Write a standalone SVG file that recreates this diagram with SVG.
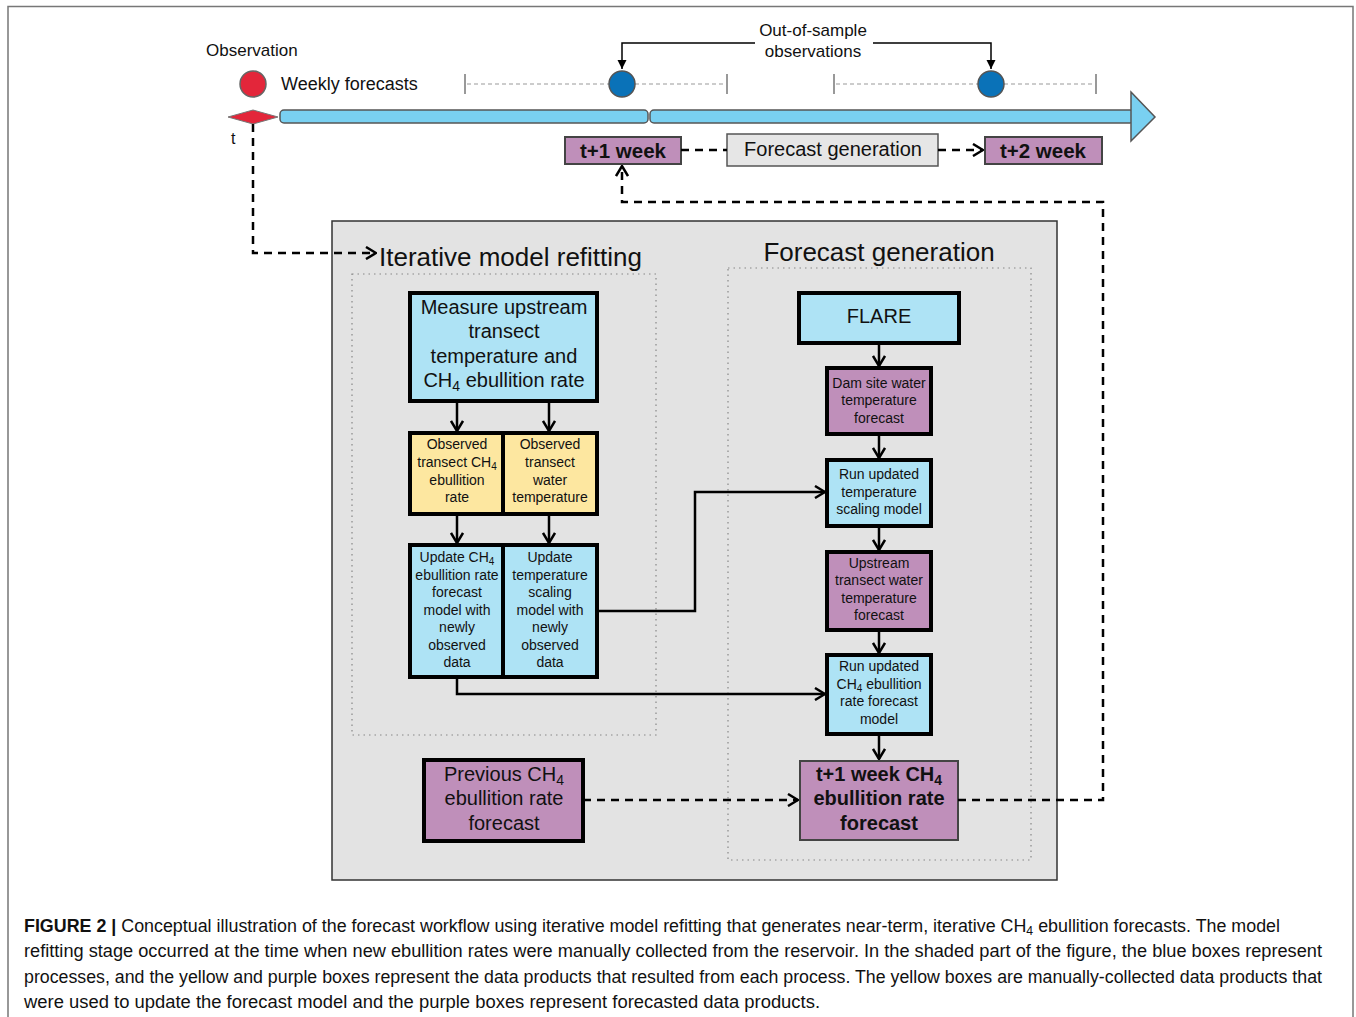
<svg xmlns="http://www.w3.org/2000/svg" width="1356" height="1017" viewBox="0 0 1356 1017">
<defs>
<style>
text{font-family:"Liberation Sans",Arial,sans-serif;fill:#111}
.c{text-anchor:middle}
.s14{font-size:14px}
.s20{font-size:20px}
.b{font-weight:bold}
.blue{fill:#aee3f5;stroke:#000;stroke-width:4}
.yel{fill:#fde7a0;stroke:#000;stroke-width:4}
.pur{fill:#bf8fba;stroke:#000;stroke-width:4}
.purt{fill:#bf8fba;stroke:#444;stroke-width:2}
.ln{fill:none;stroke:#000;stroke-width:2.5}
.dash{fill:none;stroke:#000;stroke-width:2.5;stroke-dasharray:8 6}
.dot{fill:none;stroke:#888;stroke-width:1.2;stroke-dasharray:1.5 4}
.gd{fill:none;stroke:#999;stroke-width:1.2;stroke-dasharray:4 3}
.thin{fill:none;stroke:#000;stroke-width:1.5}
</style>
<marker id="chev" viewBox="0 0 12 14" refX="11" refY="7" markerWidth="12" markerHeight="14" markerUnits="userSpaceOnUse" orient="auto">
<path d="M1,1 L11,7 L1,13" fill="none" stroke="#000" stroke-width="2.5"/>
</marker>
<marker id="tri" viewBox="0 0 10 10" refX="10" refY="5" markerWidth="9" markerHeight="10" markerUnits="userSpaceOnUse" orient="auto">
<path d="M0,0 L10,5 L0,10 Z" fill="#000"/>
</marker>
</defs>
<rect x="0" y="0" width="1356" height="1017" fill="#fff"/>
<path d="M8,1017 V6.5 H1353 V1017" fill="none" stroke="#777" stroke-width="1.5"/>

<g id="timeline">
<text x="206" y="56" style="font-size:17px">Observation</text>
<circle cx="253" cy="84" r="13" fill="#e3263a" stroke="#666" stroke-width="1.5"/>
<text x="281" y="90" style="font-size:18px">Weekly forecasts</text>
<line x1="465" y1="74" x2="465" y2="94" stroke="#777" stroke-width="1.5"/>
<line x1="727" y1="74" x2="727" y2="94" stroke="#777" stroke-width="1.5"/>
<line x1="834" y1="74" x2="834" y2="94" stroke="#777" stroke-width="1.5"/>
<line x1="1096" y1="74" x2="1096" y2="94" stroke="#777" stroke-width="1.5"/>
<line x1="467" y1="84" x2="725" y2="84" class="gd"/>
<line x1="836" y1="84" x2="1094" y2="84" class="gd"/>
<circle cx="622" cy="84" r="13" fill="#0a72b8" stroke="#555" stroke-width="1.5"/>
<circle cx="991" cy="84" r="13" fill="#0a72b8" stroke="#555" stroke-width="1.5"/>
<rect x="280" y="110" width="368" height="13" rx="4" fill="#79d0f1" stroke="#555" stroke-width="1.5"/>
<rect x="650" y="110" width="484" height="13" rx="4" fill="#79d0f1" stroke="#555" stroke-width="1.5"/>
<polygon points="1131,92 1155,117 1131,141" fill="#79d0f1" stroke="#555" stroke-width="1.5"/>
<polygon points="228,117 253,110 278,117 253,124" fill="#e3263a" stroke="#777" stroke-width="1"/>
<text x="231" y="144" style="font-size:16px">t</text>
<text x="813" y="36" class="c" style="font-size:17px">Out-of-sample</text>
<text x="813" y="57" class="c" style="font-size:17px">observations</text>
<path d="M755,43 H622 V69" class="thin" marker-end="url(#tri)"/>
<path d="M873,43 H991 V69" class="thin" marker-end="url(#tri)"/>
</g>

<g id="t1week">
<rect x="565" y="137" width="116" height="27" class="purt"/>
<text x="623" y="158" class="c b" style="font-size:20.5px">t+1 week</text>
</g>
<g id="fcgen-top">
<rect x="727" y="134" width="211" height="32" fill="#e6e6e6" stroke="#555" stroke-width="1.5"/>
<text x="833" y="156" class="c s20">Forecast generation</text>
</g>
<g id="t2week">
<rect x="985" y="137" width="117" height="27" class="purt"/>
<text x="1043" y="158" class="c b" style="font-size:20.5px">t+2 week</text>
</g>

<g id="shaded">
<rect x="332" y="221" width="725" height="659" fill="#e3e3e3" stroke="#333" stroke-width="1.5"/>
<rect x="352" y="274" width="304" height="461" class="dot"/>
<rect x="728" y="268" width="303" height="592" class="dot"/>
<text x="379" y="266" style="font-size:26px">Iterative model refitting</text>
<text x="879" y="261" class="c" style="font-size:26px">Forecast generation</text>
</g>

<g id="measure">
<rect x="410" y="293" width="187" height="108" class="blue"/>
<text class="c s20" x="504" y="314">Measure upstream</text>
<text class="c s20" x="504" y="338">transect</text>
<text class="c s20" x="504" y="363">temperature and</text>
<text class="c s20" x="504" y="387">CH<tspan dy="4" style="font-size:14px">4</tspan><tspan dy="-4"> ebullition rate</tspan></text>
</g>

<g id="obs-ch4">
<rect x="410" y="433" width="93" height="81" class="yel"/>
<text class="c s14" x="457" y="449">Observed</text>
<text class="c s14" x="457" y="467">transect CH<tspan dy="3" style="font-size:10px">4</tspan></text>
<text class="c s14" x="457" y="485">ebullition</text>
<text class="c s14" x="457" y="502">rate</text>
</g>
<g id="obs-temp">
<rect x="503" y="433" width="94" height="81" class="yel"/>
<text class="c s14" x="550" y="449">Observed</text>
<text class="c s14" x="550" y="467">transect</text>
<text class="c s14" x="550" y="485">water</text>
<text class="c s14" x="550" y="502">temperature</text>
</g>

<g id="upd-ch4">
<rect x="410" y="545" width="93" height="132" class="blue"/>
<text class="c s14" x="457" y="562">Update CH<tspan dy="3" style="font-size:10px">4</tspan></text>
<text class="c s14" x="457" y="580">ebullition rate</text>
<text class="c s14" x="457" y="597">forecast</text>
<text class="c s14" x="457" y="615">model with</text>
<text class="c s14" x="457" y="632">newly</text>
<text class="c s14" x="457" y="650">observed</text>
<text class="c s14" x="457" y="667">data</text>
</g>
<g id="upd-temp">
<rect x="503" y="545" width="94" height="132" class="blue"/>
<text class="c s14" x="550" y="562">Update</text>
<text class="c s14" x="550" y="580">temperature</text>
<text class="c s14" x="550" y="597">scaling</text>
<text class="c s14" x="550" y="615">model with</text>
<text class="c s14" x="550" y="632">newly</text>
<text class="c s14" x="550" y="650">observed</text>
<text class="c s14" x="550" y="667">data</text>
</g>

<g id="flare">
<rect x="799" y="293" width="160" height="50" class="blue"/>
<text class="c s20" x="879" y="323">FLARE</text>
</g>
<g id="dam">
<rect x="827" y="368" width="104" height="66" class="pur"/>
<text class="c s14" x="879" y="388">Dam site water</text>
<text class="c s14" x="879" y="405">temperature</text>
<text class="c s14" x="879" y="423">forecast</text>
</g>
<g id="run-temp">
<rect x="827" y="460" width="104" height="66" class="blue"/>
<text class="c s14" x="879" y="479">Run updated</text>
<text class="c s14" x="879" y="497">temperature</text>
<text class="c s14" x="879" y="514">scaling model</text>
</g>
<g id="upstream">
<rect x="827" y="552" width="104" height="78" class="pur"/>
<text class="c s14" x="879" y="568">Upstream</text>
<text class="c s14" x="879" y="585">transect water</text>
<text class="c s14" x="879" y="603">temperature</text>
<text class="c s14" x="879" y="620">forecast</text>
</g>
<g id="run-ch4">
<rect x="827" y="655" width="104" height="79" class="blue"/>
<text class="c s14" x="879" y="671">Run updated</text>
<text class="c s14" x="879" y="689">CH<tspan dy="3" style="font-size:10px">4</tspan><tspan dy="-3"> ebullition</tspan></text>
<text class="c s14" x="879" y="706">rate forecast</text>
<text class="c s14" x="879" y="724">model</text>
</g>
<g id="t1-ch4">
<rect x="800" y="761" width="158" height="79" class="purt"/>
<text class="c s20 b" x="879" y="781">t+1 week CH<tspan dy="4" style="font-size:14px">4</tspan></text>
<text class="c s20 b" x="879" y="805">ebullition rate</text>
<text class="c s20 b" x="879" y="830">forecast</text>
</g>
<g id="prev-ch4">
<rect x="424" y="760" width="159" height="81" class="pur"/>
<text class="c s20" x="504" y="781">Previous CH<tspan dy="4" style="font-size:14px">4</tspan></text>
<text class="c s20" x="504" y="805">ebullition rate</text>
<text class="c s20" x="504" y="830">forecast</text>
</g>

<g id="connectors">
<path d="M253,124 V253 H376" class="dash" marker-end="url(#chev)"/>
<path d="M681,150 H727" class="dash"/>
<path d="M938,150 H983" class="dash" marker-end="url(#chev)"/>
<path d="M958,800 H1103 V202 H622 V166" class="dash" marker-end="url(#chev)"/>
<path d="M583,800 H798" class="dash" marker-end="url(#chev)"/>
<path d="M457,403 V431" class="ln" marker-end="url(#chev)"/>
<path d="M549,403 V431" class="ln" marker-end="url(#chev)"/>
<path d="M457,516 V543" class="ln" marker-end="url(#chev)"/>
<path d="M549,516 V543" class="ln" marker-end="url(#chev)"/>
<path d="M599,611 H695 V492 H825" class="ln" marker-end="url(#chev)"/>
<path d="M457,679 V694 H825" class="ln" marker-end="url(#chev)"/>
<path d="M879,345 V366" class="ln" marker-end="url(#chev)"/>
<path d="M879,436 V458" class="ln" marker-end="url(#chev)"/>
<path d="M879,528 V550" class="ln" marker-end="url(#chev)"/>
<path d="M879,632 V653" class="ln" marker-end="url(#chev)"/>
<path d="M879,736 V759" class="ln" marker-end="url(#chev)"/>
</g>

<g id="caption" style="font-size:17.5px">
<text x="24" y="932" textLength="1256" lengthAdjust="spacingAndGlyphs"><tspan font-weight="bold">FIGURE 2 |</tspan> Conceptual illustration of the forecast workflow using iterative model refitting that generates near-term, iterative CH<tspan dy="3" style="font-size:12px">4</tspan><tspan dy="-3"> ebullition forecasts. The model</tspan></text>
<text x="24" y="957" textLength="1298" lengthAdjust="spacingAndGlyphs">refitting stage occurred at the time when new ebullition rates were manually collected from the reservoir. In the shaded part of the figure, the blue boxes represent</text>
<text x="24" y="983" textLength="1298" lengthAdjust="spacingAndGlyphs">processes, and the yellow and purple boxes represent the data products that resulted from each process. The yellow boxes are manually-collected data products that</text>
<text x="24" y="1008" textLength="796" lengthAdjust="spacingAndGlyphs">were used to update the forecast model and the purple boxes represent forecasted data products.</text>
</g>
</svg>
